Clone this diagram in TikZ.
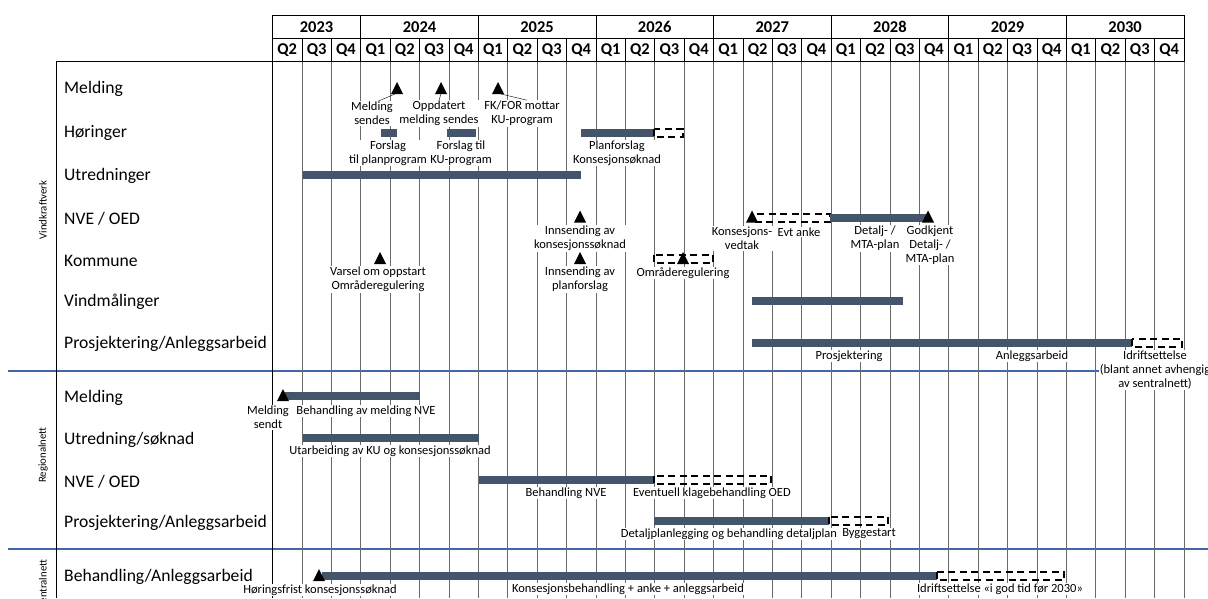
\documentclass[tikz,border=0pt]{standalone}
\usepackage{fontspec}
\setmainfont{Carlito}
\definecolor{barc}{HTML}{44546A}
\definecolor{bluel}{HTML}{3F66AB}
\definecolor{gridc}{HTML}{6A6A6A}
\newcommand\mytri[3]{\fill (#1-6,#2) -- (#1+6,#2) -- (#1,#2-12) -- cycle; \coordinate (#3) at (#1,#2);}
\newcommand\mybar[3]{\fill[barc] (#1,#3-4.3) rectangle (#2,#3+4.3);}
\newcommand\mydash[3]{\draw[dbox] (#1,#3-4.3) rectangle (#2,#3+4.3);}
\begin{document}
\begin{tikzpicture}[x=1pt,y=-1pt,
  lab/.style={font=\fontsize{12.5}{13.8}\selectfont, fill=white, inner sep=0.8pt, align=center},
  rowlab/.style={font=\fontsize{17.6}{20}\selectfont, anchor=west, inner sep=0pt},
  sidelab/.style={font=\fontsize{10.8}{12}\selectfont, rotate=90, inner sep=0pt},
  hdr/.style={font=\bfseries\fontsize{16.5}{18}\selectfont, inner sep=0pt},
  dbox/.style={draw=black, line width=1.8pt, dash pattern=on 7pt off 4.5pt},
  leader/.style={draw=black, line width=0.4pt}]
\useasboundingbox (0,0) rectangle (1208,598);
\fill[white] (0,0) rectangle (1208,598);
% blue separators
\draw[bluel, line width=2.6pt] (8,371) -- (1208,371);
\draw[bluel, line width=2.6pt] (8,549) -- (1208,549);
% grid
\foreach \k in {1,...,31} \draw[gridc, line width=0.6pt] ({272.5+29.4*\k},61.5) -- ({272.5+29.4*\k},598);
\draw[line width=0.8pt] (56,598) -- (56,61.5) -- (1183.9,61.5);
\draw[line width=0.8pt] (272.5,61.5) -- (272.5,598);
% header
\draw[line width=0.8pt] (272.5,15) rectangle (1183.9,61.5);
\draw[line width=0.8pt] (272.5,38.5) -- (1183.9,38.5);
\foreach \k in {1,...,30} \draw[line width=0.7pt] ({272.5+29.4*\k},38.5) -- ({272.5+29.4*\k},61.5);
\foreach \k in {3,7,...,27} \draw[line width=0.7pt] ({272.5+29.4*\k},15) -- ({272.5+29.4*\k},38.5);
\node[hdr] (y0) at ({272.5+29.4*1.5},27) {2023};
\foreach \yr [count=\i from 0] in {2024,2025,2026,2027,2028,2029,2030}
  \node[hdr] (y\yr) at ({272.5+29.4*(5+4*\i)},27) {\yr};
\foreach \q [count=\i from 0] in {2,3,4}
  \node[hdr] (q0\i) at ({272.5+29.4*(\i+0.5)},50) {Q\q};
\foreach \i in {0,...,6}
  \foreach \q in {1,2,3,4}
    \node[hdr] (q\i\q) at ({272.5+29.4*(3+4*\i+\q-0.5)},50) {Q\q};
% side labels
\node[sidelab] (sv) at (43,210) {Vindkraftverk};
\node[sidelab] (sr) at (43,455) {Regionalnett};
\node[sidelab] (ss) at (43,584) {Sentralnett};
% row labels
\node[rowlab] (r1) at (64,89) {Melding};
\node[rowlab] (r2) at (64,133) {Høringer};
\node[rowlab] (r3) at (64,176) {Utredninger};
\node[rowlab] (r4) at (64,219) {NVE / OED};
\node[rowlab] (r5) at (64,261) {Kommune};
\node[rowlab] (r6) at (64,302) {Vindmålinger};
\node[rowlab] (r7) at (64,344) {Prosjektering/Anleggsarbeid};
\node[rowlab] (r8) at (64,398) {Melding};
\node[rowlab] (r9) at (64,440) {Utredning/søknad};
\node[rowlab] (r10) at (64,482) {NVE / OED};
\node[rowlab] (r11) at (64,523) {Prosjektering/Anleggsarbeid};
\node[rowlab] (r12) at (64,577) {Behandling/Anleggsarbeid};
% bars
\mybar{381}{397}{133}
\mybar{447}{476}{133}
\mybar{581}{654}{133}
\mydash{654}{683}{133}
\mybar{303}{581}{175}
\mydash{752}{830}{218}
\mybar{830}{928}{218}
\mydash{654}{713}{259}
\mybar{752}{903}{301}
\mybar{752}{1132}{343}
\mydash{1132}{1182}{343}
\mybar{285}{420}{396}
\mybar{303}{479}{438}
\mybar{479}{654}{480}
\mydash{654}{771}{480}
\mybar{654}{829}{521}
\mydash{829}{888}{521}
\mybar{322}{937}{576}
\mydash{937}{1064}{576}
% milestones
\mytri{397}{94}{t1}
\mytri{441}{94}{t2}
\mytri{498}{94}{t3}
\mytri{580}{222.5}{t4}
\mytri{752}{222.5}{t5}
\mytri{928}{222.5}{t6}
\mytri{380}{264}{t7}
\mytri{580}{264}{t8}
\mytri{683}{264}{t9}
\mytri{283}{401}{t10}
\mytri{319}{581}{t11}
% labels
\node[lab] (l1) at (372,113.5) {Melding\\sendes};
\node[lab] (l2) at (439,113.5) {Oppdatert\\melding sendes};
\node[lab] (l3) at (522,113.5) {FK/FOR mottar\\KU-program};
\node[lab] (l4) at (388,153) {Forslag\\til planprogram};
\node[lab] (l5) at (461,153) {Forslag til\\KU-program};
\node[lab] (l6) at (617,153) {Planforslag\\Konsesjonsøknad};
\node[lab] (l7) at (580,238.5) {Innsending av\\konsesjonssøknad};
\node[lab] (l8) at (742,238.5) {Konsesjons-\\vedtak};
\node[lab] (l9) at (799,232) {Evt anke};
\node[lab] (l10) at (875,238.5) {Detalj- /\\MTA-plan};
\node[lab] (l11) at (930,245) {Godkjent\\Detalj- /\\MTA-plan};
\node[lab] (l12) at (378,279.5) {Varsel om oppstart\\Områderegulering};
\node[lab] (l13) at (580,279.5) {Innsending av\\planforslag};
\node[lab] (l14) at (683,273) {Områderegulering};
\node[lab] (l15) at (849,356) {Prosjektering};
\node[lab] (l16) at (1032,356) {Anleggsarbeid};
\node[lab] (l17) at (1155,370) {Idriftsettelse\\(blant annet avhengig\\av sentralnett)};
\node[lab] (l18) at (268,417.5) {Melding\\sendt};
\node[lab] (l19) at (366,411) {Behandling av melding NVE};
\node[lab] (l20) at (390,451) {Utarbeiding av KU og konsesjonssøknad};
\node[lab] (l21) at (566,493) {Behandling NVE};
\node[lab] (l22) at (712,493) {Eventuell klagebehandling OED};
\node[lab] (l23) at (729,534) {Detaljplanlegging og behandling detaljplan};
\node[lab] (l24) at (869,534) {Byggestart};
\node[lab] (l25) at (320,590) {Høringsfrist konsesjonssøknad};
\node[lab] (l26) at (628,589) {Konsesjonsbehandling + anke + anleggsarbeid};
\node[lab] (l27) at (1000,589) {Idriftsettelse «i god tid før 2030»};
% leader lines
\draw[leader] ([xshift=-2pt]t1) -- ([xshift=6pt]l1.north);
\draw[leader] (t2) -- (l2.north);
\draw[leader] ([xshift=3pt]t3) -- ([xshift=5pt]l3.north);
\end{tikzpicture}
\end{document}
